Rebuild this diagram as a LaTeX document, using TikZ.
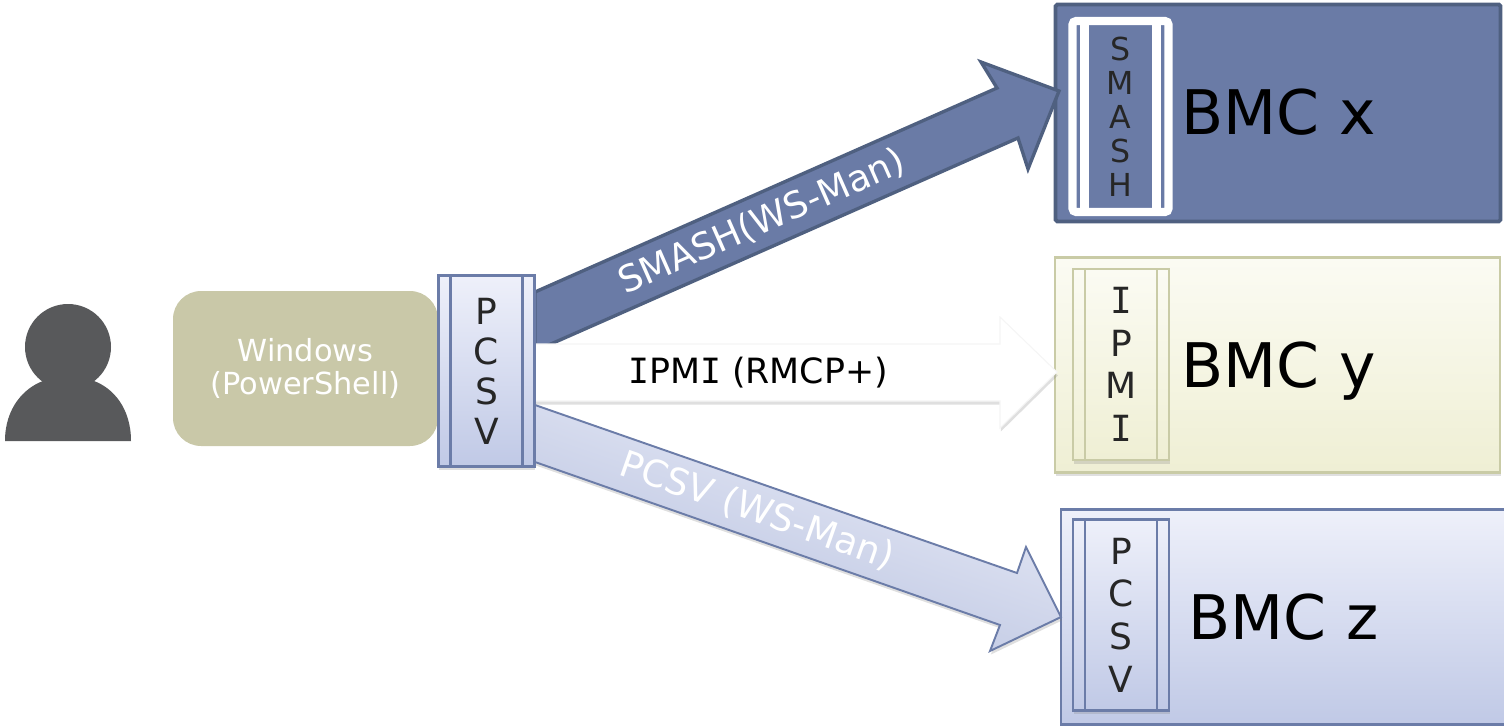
\documentclass[tikz,border=0pt]{standalone}
\usepackage{fontspec}
\setmainfont{DejaVu Sans}
\newfontfamily\barfont{DejaVu Sans Mono}
\usetikzlibrary{calc,shadows}

\newcommand{\px}{0.02cm}
\newcommand{\barI}{{\barfont I}}

\definecolor{bluefill}{HTML}{6A7BA6}
\definecolor{blueedge}{HTML}{4F6080}
\definecolor{paleedge}{HTML}{6B7CA8}
\definecolor{paletop}{HTML}{EEF0FA}
\definecolor{palelow}{HTML}{C0C9E6}
\definecolor{creamedge}{HTML}{C9CBA6}
\definecolor{creamtop}{HTML}{FBFBF3}
\definecolor{creamlow}{HTML}{EFEFD4}
\definecolor{winfill}{HTML}{C9C8A8}
\definecolor{personfill}{HTML}{58595B}

\tikzset{
  softshadow/.style={drop shadow={shadow xshift=0.5pt, shadow yshift=-2pt, opacity=0.25}},
  stripbox/.style={rectangle, minimum width=96*\px, minimum height=191*\px, inner sep=0pt, draw=#1,
    path picture={
      \draw[#1] ([xshift=12*\px]path picture bounding box.north west) -- ([xshift=12*\px]path picture bounding box.south west);
      \draw[#1] ([xshift=-12*\px]path picture bounding box.north east) -- ([xshift=-12*\px]path picture bounding box.south east);
    }},
  letters/.style={align=center, text=black!85, font=\fontsize{20.5}{#1}\selectfont},
  bmclabel/.style={anchor=base west, inner sep=0pt, font=\fontsize{35}{40}\selectfont},
  arrowlabel/.style={inner sep=0pt, font=\fontsize{#1}{24}\selectfont},
  bmcbox/.style={rectangle, inner sep=0pt, minimum width=#1*\px, minimum height=215*\px},
  paleshade/.style={top color=paletop, bottom color=palelow},
  creamshade/.style={top color=creamtop, bottom color=creamlow},
}

\begin{document}
\begin{tikzpicture}[x=\px, y=-\px]
  \useasboundingbox (0,0) rectangle (1504,726);

  % user
  \fill[personfill] (5,441) .. controls (5,408) and (24,388) .. (43,381) -- (94,381) .. controls (113,388) and (131,408) .. (131,441) -- cycle;
  \fill[personfill] (68,347) circle[radius=43];

  \node[rectangle, rounded corners=16pt, fill=winfill, minimum width=265*\px, minimum height=155*\px, inner sep=0pt,
    align=center, text=white, font=\fontsize{17.3}{18.8}\selectfont] (windows) at (305.5,368.5) {Windows\\(PowerShell)};

  % BMC boxes
  \node[bmcbox=445, minimum height=217*\px, fill=bluefill, draw=blueedge, line width=2.2pt, rounded corners=1pt] (bmcx) at (1278,113) {};
  \node[bmcbox=445, creamshade, draw=creamedge, line width=1.2pt, softshadow] (bmcy) at (1277.5,365) {};
  \node[bmcbox=447, paleshade, draw=paleedge, line width=1.2pt] (bmcz) at (1284.5,617) {};

  % the arrows start at the right edge of the client side box
  \coordinate (pcsvright) at (535,371);
  \coordinate (tipx) at (1059,91);
  \coordinate (tipy) at (1057,372);
  \coordinate (tipz) at (1061,617);
  \draw[fill=bluefill, draw=blueedge, line width=1.9pt, line join=miter]
    ($(pcsvright)+(0,-79)$) -- (997,88) -- (981,62) -- (tipx) -- (1028,169) -- (1018,138) -- ($(pcsvright)+(0,-20)$) -- cycle;
  \draw[fill=white, draw=black!4, line width=0.6pt, softshadow]
    ($(pcsvright)+(0,-27)$) -- (1000,344) -- (1000,317) -- (tipy) -- (1000,428) -- (1000,401) -- ($(pcsvright)+(0,30)$) -- cycle;
  \draw[top color=paletop, bottom color=palelow!85!paleedge, shading angle=-19, draw=paleedge, line width=1.1pt, softshadow]
    ($(pcsvright)+(0,34)$) -- (1017,573) -- (1026,547) -- (tipz) -- (990,651) -- (1000,625) -- ($(pcsvright)+(0,91)$) -- cycle;

  \node[arrowlabel=20.8, text=white, rotate=23.8] (smashlabel) at (762,222) {SMASH(WS-Man)};
  \node[arrowlabel=19.8] (ipmilabel) at (758,373) {\barI PM\barI{} (RMCP+)};
  \node[arrowlabel=21, text=white, rotate=-19.3] (pcsvlabel) at (757,511) {PCSV (WS-Man)};

  % protocol boxes
  \node[stripbox=paleedge, paleshade, line width=1.3pt, softshadow, letters=22.8] (pcsv) at (486.5,371) {P\\C\\S\\V};
  \node[stripbox=white, rounded corners=2pt, fill=bluefill, line width=4.6pt, letters=19.4, font=\fontsize{18}{19.4}\selectfont] (smash) at (1120.5,116.5) {S\\M\\A\\S\\H};
  \node[stripbox=creamedge, creamshade, line width=1.3pt, softshadow, letters=24.3] (ipmi) at (1121,364.5) {\barI\\P\\M\\\barI};
  \node[stripbox=paleedge, paleshade, line width=1.3pt, softshadow, letters=24.3] (pcsvz) at (1121,615) {P\\C\\S\\V};

  \node[bmclabel] (namex) at (1181,135) {BMC x};
  \node[bmclabel] (namey) at (1181,387) {BMC y};
  \node[bmclabel] (namez) at (1188,639) {BMC z};
\end{tikzpicture}
\end{document}
